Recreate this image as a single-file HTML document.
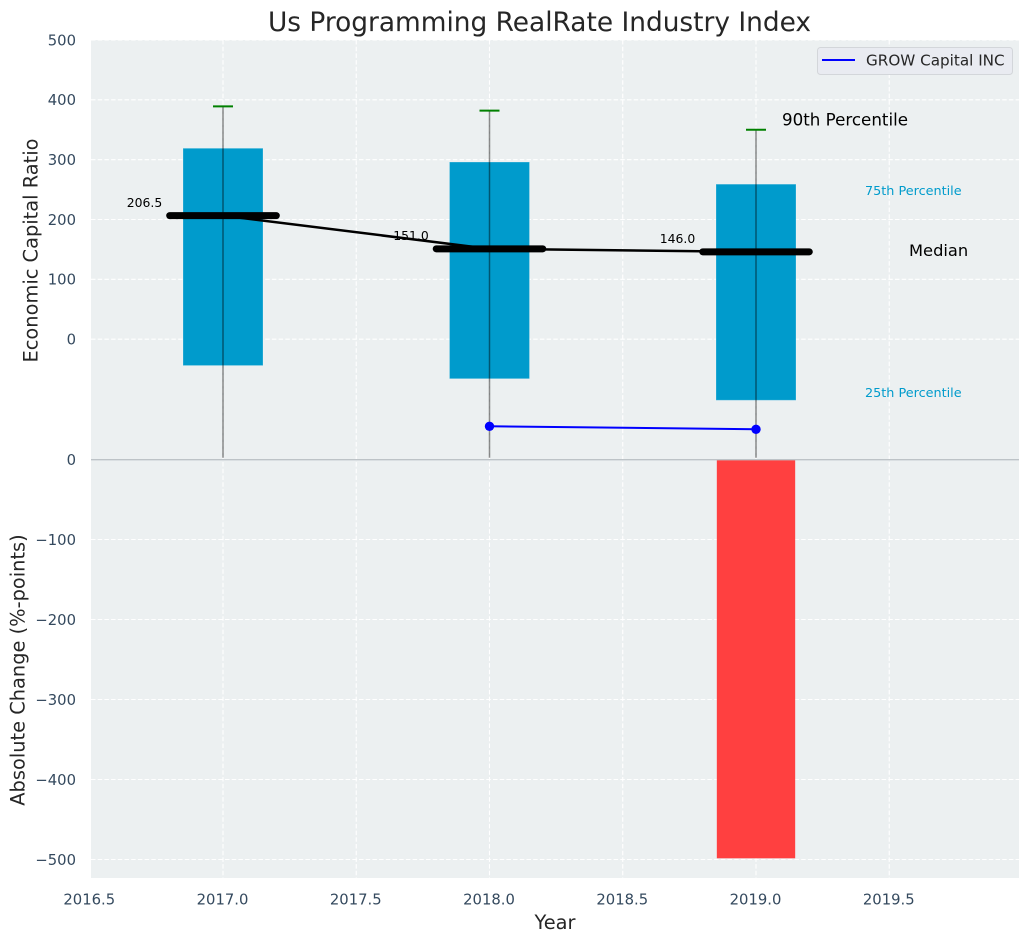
<!DOCTYPE html>
<html lang="en">
<head>
<meta charset="utf-8">
<title>Us Programming RealRate Industry Index</title>
<style>
html,body{margin:0;padding:0;background:#fff;width:1029px;height:942px;overflow:hidden}
svg{position:absolute;left:0;top:0;display:block}
text{font-family:"DejaVu Sans","Liberation Sans",sans-serif}
</style>
</head>
<body>
<svg id="chart" xmlns="http://www.w3.org/2000/svg" width="1029" height="942" viewBox="0 0 1029 942">
  <rect x="91" y="40" width="928" height="420" fill="#ecf0f1"/>
  <rect x="91" y="460" width="928" height="418" fill="#ecf0f1"/>
  <g id="grid"></g>
  <g id="marks"></g>
  <g id="ticks"></g>
  <text x="539.5" y="31" text-anchor="middle" font-size="26.4" fill="#262626">Us Programming RealRate Industry Index</text>
  <text transform="translate(37.5,250.5) rotate(-90)" text-anchor="middle" font-size="19.4" fill="#262626">Economic Capital Ratio</text>
  <text transform="translate(24.5,670) rotate(-90)" text-anchor="middle" font-size="19.4" fill="#262626">Absolute Change (%-points)</text>
  <text x="555" y="929" text-anchor="middle" font-size="19.4" fill="#262626">Year</text>
  <text x="782" y="125.5" font-size="16.7" fill="#000">90th Percentile</text>
  <text x="865" y="195" font-size="12.8" fill="#009bcc">75th Percentile</text>
  <text x="909" y="256" font-size="16.3" fill="#000">Median</text>
  <text x="865" y="397" font-size="12.8" fill="#009bcc">25th Percentile</text>
  <g>
    <rect x="817.5" y="47.5" width="195" height="27" rx="3" fill="#e9ebf1" stroke="#d3d6da" stroke-width="1"/>
    <line x1="822" y1="60" x2="855" y2="60" stroke="#0000ff" stroke-width="2"/>
    <text x="866" y="65.5" font-size="15.2" fill="#262626">GROW Capital INC</text>
  </g>
</svg>
<script>
const years = [2017, 2018, 2019];
const p90 = [389, 382, 350];
const p75 = [319, 296, 259];
const medians = [206.5, 151.0, 146.0];
const p25 = [-44, -66, -102];
const whiskerLow = [-198, -198, -198];
const companyYears = [2018, 2019];
const companyValues = [-145.5, -150.5];
const changeYears = [2019];
const changeValues = [-498.5];
const xTicks = [2016.5, 2017.0, 2017.5, 2018.0, 2018.5, 2019.0, 2019.5];
const upperTicks = [0, 100, 200, 300, 400, 500];
const lowerTicks = [0, -100, -200, -300, -400, -500];

const NS = 'http://www.w3.org/2000/svg';
const xScale = v => 223 + (v - 2017) * 266.5;
const yUpper = v => 339.2 - v * 0.5985;
const yLower = v => 459.5 - v * 0.8;

function make(parent, tag, attrs, txt) {
  const el = document.createElementNS(NS, tag);
  for (const k in attrs) el.setAttribute(k, attrs[k]);
  if (txt !== undefined) el.textContent = txt;
  parent.appendChild(el);
  return el;
}
const grid = document.getElementById('grid');
const marks = document.getElementById('marks');
const ticks = document.getElementById('ticks');
const gridStyle = {stroke:'#ffffff', 'stroke-width':1.1, 'stroke-dasharray':'4.5 2.2'};

xTicks.forEach(t => {
  if (xScale(t) < 91) return;
  const g = make(grid, 'line', Object.assign({x1:xScale(t), x2:xScale(t), y1:40, y2:878}, gridStyle));
  
  
});
upperTicks.forEach(t => {
  const g = make(grid, 'line', Object.assign({x1:91, x2:1019, y1:yUpper(t), y2:yUpper(t)}, gridStyle));
  
  
  const l = make(ticks, 'text', {x:76, y:yUpper(t) + 5.3, 'text-anchor':'end', 'font-size':14.8, fill:'#34495e'}, String(t));
  
  
});
lowerTicks.forEach(t => {
  if (t !== 0) {
    const g = make(grid, 'line', Object.assign({x1:91, x2:1019, y1:yLower(t), y2:yLower(t)}, gridStyle));
    
    
  }
  const l = make(ticks, 'text', {x:76, y:yLower(t) + 5.3, 'text-anchor':'end', 'font-size':14.8, fill:'#34495e'}, String(t).replace('-', '\u2212'));
  
  
});
xTicks.forEach(t => {
  const l = make(ticks, 'text', {x:xScale(t) - 0.5, y:904.5, 'text-anchor':'middle', 'font-size':14.8, fill:'#34495e'}, t.toFixed(1));
  
  
});

const boxHalf = 0.15;
years.forEach((yr, i) => {
  const box = make(marks, 'rect', {x:xScale(yr - boxHalf), y:yUpper(p75[i]), width:xScale(yr + boxHalf) - xScale(yr - boxHalf), height:yUpper(p25[i]) - yUpper(p75[i]), fill:'#009bcc', stroke:'#ffffff', 'stroke-opacity':0.2, 'stroke-width':1});
  
  
});

changeYears.forEach((yr, i) => {
  const bar = make(marks, 'rect', {x:xScale(yr - 0.147), y:yLower(0), width:xScale(yr + 0.147) - xScale(yr - 0.147), height:yLower(changeValues[i]) - yLower(0), fill:'#ff4040'});
  
  
});

const zeroLine = make(marks, 'line', {x1:91, x2:1019, y1:459.7, y2:459.7, stroke:'#bdc3c7', 'stroke-width':1.4});



years.forEach((yr, i) => {
  const w = make(marks, 'line', {x1:xScale(yr), x2:xScale(yr), y1:yUpper(p90[i]), y2:yUpper(whiskerLow[i]), stroke:'#000', 'stroke-opacity':0.45, 'stroke-width':1.5});
  
  
  const c = make(marks, 'line', {x1:xScale(yr - 0.0375), x2:xScale(yr + 0.0375), y1:yUpper(p90[i]), y2:yUpper(p90[i]), stroke:'#008000', 'stroke-width':2});
  
  
});

medians.forEach((m, i) => {
  const t = make(marks, 'text', {x:xScale(years[i]) - 78.5, y:yUpper(m) - 8.8, 'text-anchor':'middle', 'font-size':12.4, fill:'#000'}, m.toFixed(1));
  
  
});

const medianLine = make(marks, 'polyline', {points:years.map((yr, i) => xScale(yr) + ',' + yUpper(medians[i])).join(' '), fill:'none', stroke:'#000', 'stroke-width':2.5});



years.forEach((yr, i) => {
  const m = make(marks, 'line', {x1:xScale(yr - 0.2), x2:xScale(yr + 0.2), y1:yUpper(medians[i]), y2:yUpper(medians[i]), stroke:'#000', 'stroke-width':7, 'stroke-linecap':'round'});
  
  
});

const companyLine = make(marks, 'polyline', {points:companyYears.map((yr, i) => xScale(yr) + ',' + yUpper(companyValues[i])).join(' '), fill:'none', stroke:'#0000ff', 'stroke-width':2});


companyYears.forEach((yr, i) => {
  const p = make(marks, 'circle', {cx:xScale(yr), cy:yUpper(companyValues[i]), r:4.7, fill:'#0000ff'});
  
  
});
</script>
</body>
</html>
